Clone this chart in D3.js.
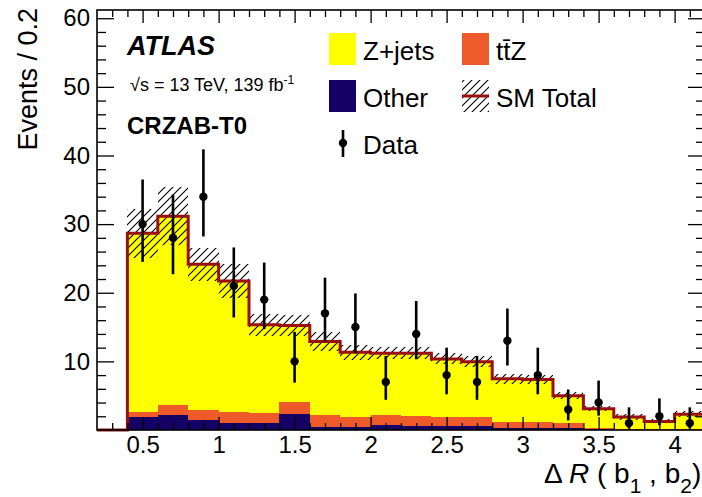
<!DOCTYPE html>
<html>
<head>
<meta charset="utf-8">
<script src="https://cdn.jsdelivr.net/npm/d3@7"></script>
<style>
  body { margin: 0; background: #fff; }
  svg text { font-family: "Liberation Sans", Arial, Helvetica, sans-serif; fill: #000; }
</style>
</head>
<body>
<svg id="chart" width="702" height="497"></svg>
<script>
/* Histogram contents, one entry per 0.2-wide bin of Delta R(b1,b2) */
var binLow = [0.2, 0.4, 0.6, 0.8, 1.0, 1.2, 1.4, 1.6, 1.8, 2.0,
              2.2, 2.4, 2.6, 2.8, 3.0, 3.2, 3.4, 3.6, 3.8, 4.0];
var binWidth = 0.2;

var other = [0, 1.9, 2.25, 1.4, 1.07, 0.95, 2.3, 0.4, 0.49, 0.72,
             0.63, 0.58, 0.58, 0.35, 0.35, 0.33, 0.1, 0.05, 0.05, 0.05];
var ttZ   = [0, 0.77, 1.39, 1.46, 1.55, 1.48, 1.73, 1.78, 1.45, 1.46,
             1.35, 1.27, 1.27, 0.8, 0.8, 0.67, 0.2, 0.15, 0.1, 0.15];
var zjets = [0, 26.0, 27.5, 21.3, 19.1, 12.9, 11.2, 10.7, 9.4, 9.0,
             9.2, 8.5, 8.1, 6.3, 6.2, 4.0, 2.8, 1.7, 1.1, 2.1];
// SM total uncertainty (hatched band), +/- around the stack sum
var totalUnc = [0, 3.6, 4.2, 2.4, 2.5, 1.6, 1.5, 1.4, 1.1, 0.9,
                0.9, 0.8, 0.8, 0.7, 0.7, 0.5, 0.4, 0.4, 0.3, 0.4];

// observed counts with asymmetric (Poisson) error bars
var dataCounts = [0, 30, 28, 34, 21, 19, 10, 17, 15, 7,
                  14, 8, 7, 13, 8, 3, 4, 1, 2, 1];
var dataErrLo = [0, 5.5, 5.3, 5.8, 4.6, 4.3, 3.1, 4.1, 3.8, 2.6,
                 3.7, 2.8, 2.6, 3.6, 2.8, 1.6, 1.9, 0.8, 1.3, 0.8];
var dataErrHi = [0, 6.5, 6.3, 6.9, 5.6, 5.4, 4.3, 5.2, 4.9, 3.8,
                 4.8, 4.0, 3.8, 4.7, 4.0, 2.9, 3.2, 2.3, 2.6, 2.3];

var yTicks = [10, 20, 30, 40, 50, 60];
var xTicks = [0.5, 1, 1.5, 2, 2.5, 3, 3.5, 4];

var colors = { other: '#150065', ttZ: '#ee5a2a', zjets: '#ffff00' };
var totalColor = '#9a1010';

var svg = d3.select('#chart');
// plot frame (the right edge runs just past the window)
var padL = 97, padR = 705, padT = 10, padB = 430;

var x = d3.scaleLinear().domain([0.2, 4.2]).range([padL, padR]);
var y = d3.scaleLinear().domain([0, 61.2]).range([padB, padT]);

var rows = binLow.map(function(lo, i) {
  return { lo: lo, other: other[i], ttZ: ttZ[i], zjets: zjets[i],
           unc: totalUnc[i], n: dataCounts[i], eLo: dataErrLo[i], eHi: dataErrHi[i] };
});
rows.forEach(function(r) { r.total = r.other + r.ttZ + r.zjets; });

var stack = d3.stack().keys(['other', 'ttZ', 'zjets'])(rows);

// hatch pattern for the uncertainty band
var defs = svg.append('defs');
defs.append('pattern')
    .attr('id', 'hatch')
    .attr('patternUnits', 'userSpaceOnUse')
    .attr('width', 8).attr('height', 8)
  .append('path')
    .attr('d', 'M-2,2 L2,-2 M0,8 L8,0 M6,10 L10,6')
    .attr('stroke', '#000')
    .attr('stroke-width', 1.1);

// stacked backgrounds
svg.append('g')
    .attr('shape-rendering', 'crispEdges')
  .selectAll('g')
    .data(stack)
  .enter().append('g')
    .attr('fill', function(s) { return colors[s.key]; })
  .selectAll('rect')
    .data(function(s) { return s; })
  .enter().append('rect')
    .attr('x', function(d) { return x(d.data.lo); })
    .attr('width', function(d) { return x(d.data.lo + binWidth) - x(d.data.lo); })
    .attr('y', function(d) { return y(d[1]); })
    .attr('height', function(d) { return y(d[0]) - y(d[1]); });

// uncertainty band
svg.append('g')
    .attr('shape-rendering', 'crispEdges')
  .selectAll('rect')
    .data(rows.filter(function(r) { return r.unc > 0; }))
  .enter().append('rect')
    .attr('x', function(d) { return x(d.lo); })
    .attr('width', function(d) { return x(d.lo + binWidth) - x(d.lo); })
    .attr('y', function(d) { return y(d.total + d.unc); })
    .attr('height', function(d) { return y(d.total - d.unc) - y(d.total + d.unc); })
    .attr('fill', 'url(#hatch)');

// SM total outline
var stepPts = rows.map(function(r) { return [r.lo, r.total]; });
stepPts.push([binLow[binLow.length - 1] + binWidth, rows[rows.length - 1].total]);
svg.append('path')
    .datum(stepPts)
    .attr('fill', 'none')
    .attr('stroke', totalColor)
    .attr('stroke-width', 3)
    .attr('d', d3.line()
        .x(function(d) { return x(d[0]); })
        .y(function(d) { return y(d[1]); })
        .curve(d3.curveStepAfter));

// axes, ROOT style: ticks inside the frame on all four sides
var yMinor = d3.range(2, 61, 2).filter(function(v) { return v % 10 !== 0; });
var xMinor = d3.range(3, 42).map(function(v) { return v / 10; })
    .filter(function(v) { return Math.abs(v * 2 - Math.round(v * 2)) > 1e-6; });

var axes = svg.append('g').attr('class', 'axes');

axes.append('g')
    .attr('transform', 'translate(' + padL + ',0)')
    .call(d3.axisLeft(y).tickValues(yTicks).tickSize(-17).tickPadding(7)
        .tickFormat(d3.format('~g')));
axes.append('g')
    .attr('transform', 'translate(' + padL + ',0)')
    .call(d3.axisLeft(y).tickValues(yMinor).tickSize(-9).tickFormat(''));
axes.append('g')
    .attr('transform', 'translate(' + padR + ',0)')
    .call(d3.axisRight(y).tickValues(yTicks).tickSize(-17).tickFormat(''));
axes.append('g')
    .attr('transform', 'translate(' + padR + ',0)')
    .call(d3.axisRight(y).tickValues(yMinor).tickSize(-9).tickFormat(''));

axes.append('g')
    .attr('transform', 'translate(0,' + padB + ')')
    .call(d3.axisBottom(x).tickValues(xTicks).tickSize(-13).tickPadding(6)
        .tickFormat(d3.format('~g')));
axes.append('g')
    .attr('transform', 'translate(0,' + padB + ')')
    .call(d3.axisBottom(x).tickValues(xMinor).tickSize(-7).tickFormat(''));
axes.append('g')
    .attr('transform', 'translate(0,' + padT + ')')
    .call(d3.axisTop(x).tickValues(xTicks).tickSize(-13).tickFormat(''));
axes.append('g')
    .attr('transform', 'translate(0,' + padT + ')')
    .call(d3.axisTop(x).tickValues(xMinor).tickSize(-7).tickFormat(''));

axes.selectAll('.domain').remove();
axes.selectAll('.tick line').attr('stroke', '#000').attr('stroke-width', 1.3);
axes.selectAll('.tick text')
    .style('font-size', '24px')
    .style('font-family', '"Liberation Sans", Arial, sans-serif')
    .attr('fill', '#000');

svg.append('rect')
    .attr('x', padL).attr('y', padT)
    .attr('width', padR - padL).attr('height', padB - padT)
    .attr('fill', 'none').attr('stroke', '#000').attr('stroke-width', 1.6);

// data points
var pts = svg.append('g').selectAll('g')
    .data(rows.filter(function(r) { return r.n > 0; }))
  .enter().append('g');
pts.append('line')
    .attr('x1', function(d) { return x(d.lo + binWidth / 2); })
    .attr('x2', function(d) { return x(d.lo + binWidth / 2); })
    .attr('y1', function(d) { return y(d.n - d.eLo); })
    .attr('y2', function(d) { return y(d.n + d.eHi); })
    .attr('stroke', '#000').attr('stroke-width', 2.6);
pts.append('circle')
    .attr('cx', function(d) { return x(d.lo + binWidth / 2); })
    .attr('cy', function(d) { return y(d.n); })
    .attr('r', 4.2)
    .attr('fill', '#000');

// axis titles
svg.append('text')
    .attr('transform', 'translate(37,8) rotate(-90)')
    .attr('text-anchor', 'end')
    .style('font-size', '27px')
    .text('Events / 0.2');

var xt = svg.append('text')
    .attr('x', 544).attr('y', 483)
    .style('font-size', '28px');
xt.append('tspan').text('\u0394 ');
xt.append('tspan').style('font-style', 'italic').text('R');
xt.append('tspan').text(' ( b');
xt.append('tspan').attr('dy', 10).style('font-size', '21px').text('1');
xt.append('tspan').attr('dy', -10).text(' , b');
xt.append('tspan').attr('dy', 10).style('font-size', '21px').text('2');
xt.append('tspan').attr('dy', -10).text(')');

// labels
svg.append('text')
    .attr('x', 127).attr('y', 55)
    .style('font-size', '27px').style('font-weight', 'bold').style('font-style', 'italic')
    .text('ATLAS');
var lumi = svg.append('text')
    .attr('x', 130).attr('y', 91)
    .style('font-size', '18px');
lumi.append('tspan').text('\u221As = 13 TeV, 139 fb');
lumi.append('tspan').attr('dy', -7).style('font-size', '12px').text('-1');
svg.append('text')
    .attr('x', 127).attr('y', 134)
    .style('font-size', '24px').style('font-weight', 'bold')
    .text('CRZAB-T0');

// legend
var legend = svg.append('g').style('font-size', '26px');
var boxW = 27, boxH = 32;
var legendItems = [
  { label: 'Z+jets', kind: 'box', fill: colors.zjets, bx: 329, by: 33 },
  { label: 'tt\u0304Z', kind: 'box', fill: colors.ttZ, bx: 462, by: 33 },
  { label: 'Other', kind: 'box', fill: colors.other, bx: 329, by: 80 },
  { label: 'SM Total', kind: 'total', bx: 462, by: 80 },
  { label: 'Data', kind: 'data', bx: 329, by: 127 }
];
legendItems.forEach(function(it) {
  if (it.kind === 'box') {
    legend.append('rect')
        .attr('x', it.bx).attr('y', it.by).attr('width', boxW).attr('height', boxH)
        .attr('fill', it.fill);
  } else if (it.kind === 'total') {
    legend.append('rect')
        .attr('x', it.bx).attr('y', it.by).attr('width', boxW).attr('height', boxH)
        .attr('fill', 'url(#hatch)');
    legend.append('line')
        .attr('x1', it.bx).attr('x2', it.bx + boxW)
        .attr('y1', it.by + boxH / 2).attr('y2', it.by + boxH / 2)
        .attr('stroke', totalColor).attr('stroke-width', 3);
  } else {
    var cx = it.bx + boxW / 2 + 0.5;
    legend.append('line')
        .attr('x1', cx).attr('x2', cx)
        .attr('y1', it.by + 3).attr('y2', it.by + 30)
        .attr('stroke', '#000').attr('stroke-width', 2.6);
    legend.append('circle')
        .attr('cx', cx).attr('cy', it.by + 16).attr('r', 4.2).attr('fill', '#000');
  }
  legend.append('text')
      .attr('x', it.bx + 34).attr('y', it.by + 27)
      .text(it.label);
});
</script>
</body>
</html>
